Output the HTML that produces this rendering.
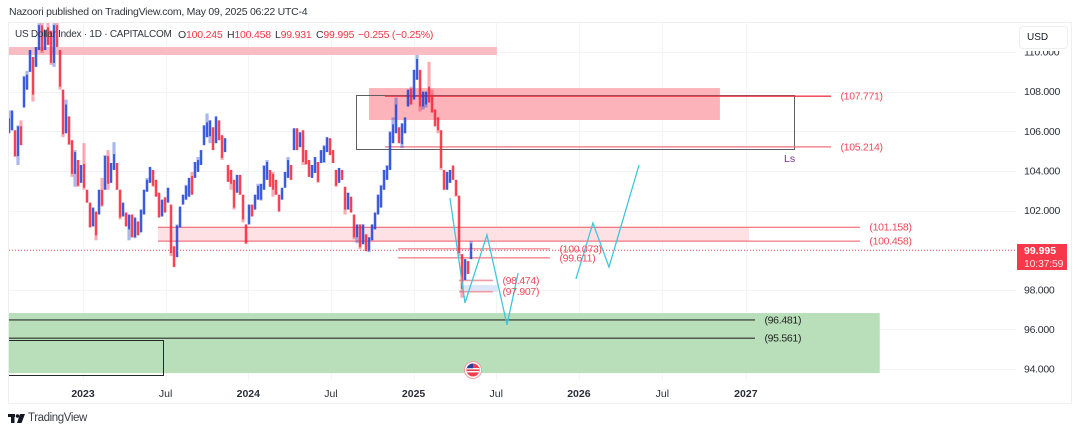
<!DOCTYPE html>
<html lang="en">
<head>
<meta charset="utf-8">
<title>US Dollar Index chart</title>
<style>
html,body{margin:0;padding:0;background:#fff;width:1080px;height:434px;overflow:hidden}
body{font-family:"Liberation Sans",sans-serif;position:relative}
#publish{position:absolute;left:9px;top:6px;font-size:10.5px;color:#30343c;white-space:nowrap;letter-spacing:-.25px}
#frame{position:absolute;left:8px;top:22px;width:1064px;height:382px;border:1px solid #efefef;box-sizing:border-box}
#chart{position:absolute;left:0;top:0}
.lg{position:absolute;top:29px;font-size:10.5px;color:#30343c;white-space:nowrap;letter-spacing:-.2px}
.lg b{font-weight:normal;color:#f23645}
#usd{position:absolute;left:1019px;top:26px;width:49px;height:23px;background:#fff;border:1px solid #eeeeee;border-radius:4px;box-sizing:border-box;box-shadow:0 2px 0 #fff;font-size:10px;color:#131722;line-height:21px;padding-left:7px}
#tag{position:absolute;left:1017px;top:244px;width:50px;height:26px;background:#f7374a;color:#fff;font-size:10.5px;line-height:12.5px;padding:1px 0 0 7px;box-sizing:border-box}
#tag span{display:block;font-weight:bold}
#tag i{display:block;font-style:normal;color:#fde0e3;letter-spacing:-.2px}
#brand{position:absolute;left:28px;top:412px;font-size:11.5px;color:#3a3e46;letter-spacing:-.4px}
#logo{position:absolute;left:8px;top:414px}
</style>
</head>
<body>
<div id="publish">Nazoori published on TradingView.com, May 09, 2025 06:22 UTC-4</div>
<div id="frame"></div>
<svg id="chart" width="1080" height="434"></svg>
<div class="lg" style="left:15px;font-size:10px;letter-spacing:-.25px">US Dollar Index · 1D · CAPITALCOM</div>
<div class="lg" style="left:178px">O<b>100.245</b></div>
<div class="lg" style="left:227px">H<b>100.458</b></div>
<div class="lg" style="left:275px">L<b>99.931</b></div>
<div class="lg" style="left:316px">C<b>99.995</b></div>
<div class="lg" style="left:358px"><b>−0.255 (−0.25%)</b></div>
<div id="usd">USD</div>
<div id="tag"><span>99.995</span><i>10:37:59</i></div>
<svg id="logo" width="18" height="10"><rect x="0" y="0" width="7" height="3" fill="#131722"/><rect x="3" y="0" width="3.5" height="9" fill="#131722"/><circle cx="9.5" cy="2" r="1.8" fill="#131722"/><polygon points="12,0 17,0 13.5,9 9,9" fill="#131722"/></svg>
<div id="brand">TradingView</div>
<script>
var highs=[107.05,107.05,106.05,106.3,106.55,108.8,109.05,110.1,109.75,110.25,111.45,111.5,111.1,111.5,111.1,111.45,111.5,110.1,108.1,107.6,106.75,105.55,105.05,104.55,104.3,105.4,103.05,102.4,102.15,101.95,103.05,103.65,104.8,105.05,104.4,105.45,104.4,103.05,102.4,101.9,101.8,101.8,101.65,101.45,102.05,103.05,103.65,104.2,104.05,103.55,102.9,102.55,102.7,103.15,102.3,100.2,101.3,102.2,102.8,103.3,103.65,103.95,104.45,104.7,105.05,106.3,106.9,106.55,106.2,106.75,106.55,105.8,105.65,104.3,104.05,103.55,103.8,103.8,102.8,101.3,102.3,102.3,102.8,103.35,103.35,104.3,104.55,104.05,103.95,103.55,102.8,103.15,103.95,104.7,104.3,106.15,106.15,105.95,106.05,105.05,104.55,104.3,104.7,104.45,105.05,105.3,105.7,105.65,105.05,104.05,104.15,104.05,103.2,102.9,102.7,101.8,101.3,101.3,101.3,100.8,100.65,101.3,101.9,102.8,103.3,104.05,104.3,106,106.7,107.7,106.2,106.4,106.7,108.1,108.25,109.1,109.85,109.1,108,108,109.5,108.1,107.1,106.7,106.05,104.05,103.95,104.05,104.3,103.55,102.75,99.8,99.55,99.45,100.458];
var lows=[105.9,106.05,104.7,104.3,105.3,107.2,108.1,109,107.5,109.25,110.1,109.95,110.1,110.35,109.35,109.25,110.25,108.1,105.7,105.9,105.3,103.7,103.2,103.2,103.4,103.05,102.4,101.15,101.2,100.5,101.8,102.2,103.05,103.05,103.4,104.05,103.05,101.55,101.7,101.2,100.5,100.65,100.6,100.75,100.9,101.8,102.95,103.4,103.2,102.7,101.65,101.7,101.9,102.4,99.7,99.15,99.65,101.15,102.3,102.55,102.7,102.8,103.65,103.95,104.3,105.3,105.7,105.4,105.05,105.4,105.55,104.55,104.95,103.45,103.05,102.05,102.9,102.8,101.4,100.3,101.3,101.7,102.05,102.55,102.5,103.05,103.55,103.2,102.7,102.8,101.95,102.55,103.15,103.65,103.55,105.05,105.05,105.2,104.3,104.3,103.7,103.65,103.9,103.4,104.4,104.4,104.95,104.8,104.4,103.2,103.4,103.55,101.8,102.05,101.9,100.55,100.35,100.05,100.3,99.95,99.9,100.5,101.05,101.8,102.15,103.05,103.55,104.05,105.4,105.9,105.4,105.15,105.9,107.25,107.35,107.6,108.6,107,107.1,107.2,107.45,106.95,106.25,105.9,104.05,103.05,103.05,103.4,103.55,102.7,99.7,97.6,98.5,98.8,99.55];
var closes=[106.3,106.8,105.1,105.9,105.6,108.4,108.5,109.8,108.2,110,111,110.4,110.9,110.7,109.8,111,110.6,108.6,106.2,107,105.7,104.2,104.6,103.6,104,103.5,102.7,101.5,101.9,101.1,102.7,102.6,104.4,103.7,104.1,104.5,103.4,102,102.2,101.4,101.5,101,101.3,101,101.8,102.8,103.2,104,103.6,103,102,102.3,102.2,102.9,100.2,99.5,100.9,101.9,102.6,102.9,103.4,103.1,104.2,104.2,104.9,106,106.1,106.3,105.4,106.4,105.9,105,105.4,103.8,103.7,102.5,103.5,103.1,101.9,100.7,102,101.9,102.5,102.9,103.1,103.9,104.1,103.5,103.4,103,102.3,102.9,103.7,104.2,103.9,105.8,105.4,105.7,104.8,104.7,104,104.1,104.4,103.8,104.8,104.9,105.4,105.1,104.7,103.6,103.9,103.7,102.4,102.6,102.2,101,101,100.5,101,100.3,100.4,101,101.7,102.5,102.9,103.8,103.9,105.6,106,107,105.7,106.1,106.5,107.8,107.7,108.8,109.3,107.6,107.7,107.9,107.5,107.3,106.6,106.4,104.5,103.4,103.7,103.9,103.8,103.1,100.2,98.4,99.2,99,99.995];
var firstBarYear=2022.5524;
var barStepYears=0.01815;

var priceTicks=[110,108,106,104,102,98,96,94];
var timeTickYears=[2023,2023.5,2024,2024.5,2025,2025.5,2026,2026.505,2027.01];
var timeTickLabels=["2023","Jul","2024","Jul","2025","Jul","2026","Jul","2027"];

var levelPrices=[107.771,105.214,101.158,100.458,100.073,99.611,98.474,97.907,96.481,95.561];
var levelStarts=[2024.827,2024.827,2023.454,2023.454,2024.906,2024.906,2025.275,2025.275,2022.552,2022.552];
var levelEnds=[2027.525,2027.525,2027.7,2027.7,2025.825,2025.825,2025.48,2025.48,2027.065,2027.065];
var levelWeights=[1.3,1.3,1,1,1.6,1,1.6,1.6,1.2,1.2];
var levelColors=["#ee3a4c","#f0707c","#ef5561","#ef5561","#f39aa2","#ef5561","#f39aa2","#f39aa2","#2b2f2b","#2b2f2b"];
var levelLabelColors=["#f2485a","#f2485a","#f2485a","#f2485a","#f2485a","#f2485a","#f2485a","#f2485a","#222","#222"];

var zoneTops=[110.25,108.18,101.158,98.24,96.83];
var zoneBottoms=[109.85,106.57,100.458,97.89,93.8];
var zoneStarts=[2022.552,2024.73,2023.454,2025.3,2022.552];
var zoneEnds=[2025.504,2026.853,2027.029,2025.51,2027.82];
var zoneFills=["#f9bcc3","#fcb3ba","#fde1e4","#dbe6f8","#b9dfba"];
var zoneNames=["supply-zone-top","supply-zone-main","resistance-zone","demand-zone-small","demand-zone-large"];

var boxTops=[107.82,95.47];
var boxBottoms=[105.08,93.7];
var boxStarts=[2024.652,2022.53];
var boxEnds=[2027.3,2023.484];
var boxColors=["#5f5f5f","#232a23"];

var projectionOneYears=[2025.22,2025.311,2025.444,2025.565,2025.632];
var projectionOnePrices=[102.63,97.34,100.77,96.23,98.85];
var projectionTwoYears=[2025.982,2026.085,2026.182,2026.364];
var projectionTwoPrices=[98.55,101.37,99.15,104.3];

var lastPrice=99.995;

function yOf(p){return 52+(110-p)*19.82;}
function xOf(t){return 83+(t-2023)*165.3;}
var svg=document.getElementById('chart');
var NS='http://www.w3.org/2000/svg';
function add(tag,attrs,parent){
  var e=document.createElementNS(NS,tag);
  for(var k in attrs){e.setAttribute(k,attrs[k]);}
  (parent||svg).appendChild(e);
  return e;
}
var defs=add('defs',{});
var clip=add('clipPath',{id:'pane'},defs);
add('rect',{x:9,y:23,width:1007,height:357},clip);
var grid=add('g',{});


priceTicks.forEach(function(p){
  var l=add('line',{x1:9,x2:1016,y1:Math.round(yOf(p))+.5,y2:Math.round(yOf(p))+.5,stroke:'#f3f4f5','stroke-width':1},grid);
  
  
});
timeTickYears.forEach(function(t){
  var l=add('line',{x1:Math.round(xOf(t))+.5,x2:Math.round(xOf(t))+.5,y1:23,y2:380,stroke:'#f3f4f5','stroke-width':1},grid);
  
  
});
zoneTops.forEach(function(top,i){
  var r=add('rect',{x:xOf(zoneStarts[i]),y:yOf(top),width:xOf(zoneEnds[i])-xOf(zoneStarts[i]),height:yOf(zoneBottoms[i])-yOf(top),fill:zoneFills[i]});
  
  
});
boxTops.forEach(function(top,i){
  var r=add('rect',{x:Math.round(xOf(boxStarts[i]))+.5,y:Math.round(yOf(top))+.5,width:Math.round(xOf(boxEnds[i])-xOf(boxStarts[i])),height:Math.round(yOf(boxBottoms[i])-yOf(top)),fill:'none',stroke:boxColors[i],'stroke-width':1,'clip-path':'url(#pane)'});
  
  
});
levelPrices.forEach(function(p,i){
  var l=add('line',{x1:xOf(levelStarts[i]),x2:xOf(levelEnds[i]),y1:yOf(p),y2:yOf(p),stroke:levelColors[i],'stroke-width':levelWeights[i]});
  
  
});
var candles=add('g',{'clip-path':'url(#pane)'});


closes.forEach(function(c,i){
  var x=xOf(firstBarYear+i*barStepYears);
  var o=i?closes[i-1]:lows[0];
  var col=c>=o?'#1f45d8':'#f5283c';
  var w=add('line',{x1:x,x2:x,y1:yOf(highs[i]),y2:yOf(lows[i]),stroke:col,'stroke-opacity':.38,'stroke-width':3.2},candles);
  
  
  var b=add('line',{x1:x,x2:x,y1:yOf(Math.min(highs[i],Math.max(o,c)+.35)),y2:yOf(Math.max(lows[i],Math.min(o,c)-.35)),stroke:col,'stroke-width':1.6},candles);
  
  
});
var lp=add('line',{x1:9,x2:1017,y1:yOf(lastPrice),y2:yOf(lastPrice),stroke:'#f5485a','stroke-width':1,'stroke-dasharray':'1 2'});


function poly(ys,ps,name){
  var pts=ys.map(function(t,i){return xOf(t)+','+yOf(ps[i]);}).join(' ');
  var e=add('polyline',{points:pts,fill:'none',stroke:'#40c6da','stroke-width':1.3});
  
  
}
poly(projectionOneYears,projectionOnePrices,'projection-path-near');
poly(projectionTwoYears,projectionTwoPrices,'projection-path-far');
function txt(x,y,s,size,fill,anchor,weight,name,inter,sp){
  var t=add('text',{x:x,y:y,'font-size':size,fill:fill,'text-anchor':anchor||'start','font-family':'"Liberation Sans",sans-serif','font-weight':weight||'normal','letter-spacing':sp||0});
  t.textContent=s;
  
  
  return t;
}
levelPrices.forEach(function(p,i){
  txt(xOf(levelEnds[i])+9.5,yOf(p)+3.5,'('+p.toFixed(3)+')',10.5,levelLabelColors[i],'start','normal','level-label',true,-.3);
});
txt(784,162,'Ls',10.5,'#7b2ea0','start','normal','liquidity-label',true);
priceTicks.forEach(function(p){
  txt(1024,yOf(p)+3.5,p.toFixed(3),10.5,'#2a2e39','start','normal','price-tick-label',false,-.27);
});
timeTickYears.forEach(function(t,i){
  var isYear=timeTickLabels[i]!=='Jul';
  txt(xOf(t),397,timeTickLabels[i],10.5,'#2a2e39','middle',isYear?'bold':'normal','time-tick-label',false);
});
var flag=add('g',{});


add('circle',{cx:473,cy:370,r:8.5,fill:'#fff',stroke:'#f0a0a8','stroke-width':1},flag);
add('circle',{cx:473,cy:370,r:6.5,fill:'#ef3e4e'},flag);
add('rect',{x:467,y:368,width:12,height:1.4,fill:'#fff'},flag);
add('rect',{x:467,y:371,width:12,height:1.4,fill:'#fff'},flag);
add('path',{d:'M473 363.5a6.5 6.5 0 0 0-6.2 4.8h6.2z',fill:'#2a3f9d'},flag);
</script>
</body>
</html>
